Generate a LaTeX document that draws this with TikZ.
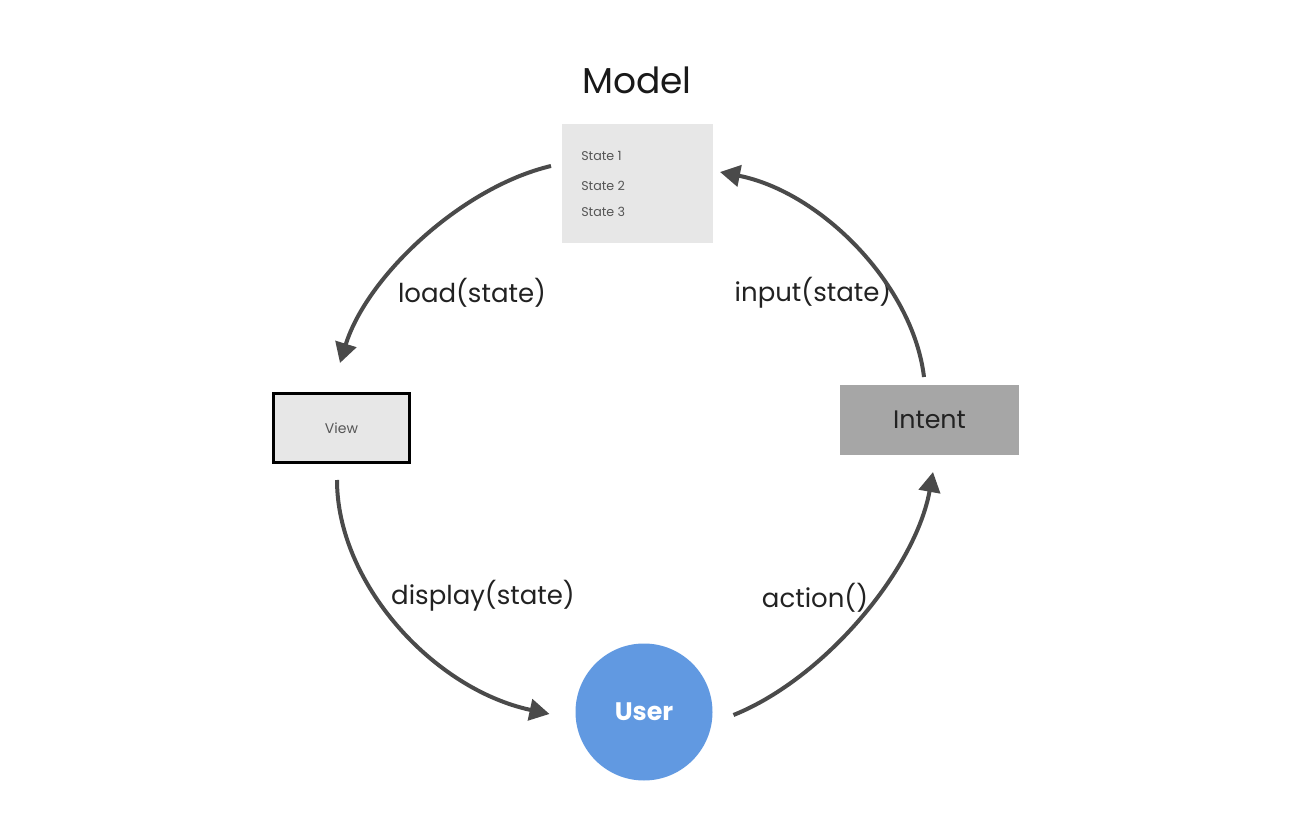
\documentclass[tikz,border=0pt]{standalone}
\usepackage{fontspec}
\setmainfont{Poppins}
\usetikzlibrary{arrows.meta,calc}
\definecolor{arrowc}{HTML}{4A4A4A}
\definecolor{boxlight}{HTML}{E7E7E7}
\definecolor{boxdark}{HTML}{A6A6A6}
\definecolor{userblue}{HTML}{6199E1}
\definecolor{txtgray}{HTML}{555555}
\definecolor{txtdark}{HTML}{222222}
\tikzset{
  flow/.style={draw=arrowc, line width=3pt, -{Triangle[length=15pt,width=16pt]}},
  lbl/.style={text=txtdark, font=\fontsize{19.5}{24}\selectfont, inner sep=0pt},
  stlbl/.style={text=txtgray, font=\fontsize{9.5}{11}\selectfont, anchor=west, inner sep=0pt},
}
\begin{document}
\begin{tikzpicture}[x=0.75pt,y=-0.75pt]
\useasboundingbox[fill=white] (0,0) rectangle (1304,831);

\node[text=black!90, font=\fontsize{27}{32}\selectfont, inner sep=0pt] (title) at (637,80) {Model};

\node[fill=boxlight, minimum width=151*0.75pt, minimum height=119*0.75pt, inner sep=0pt, outer sep=0pt] (model) at (637.5,183.5) {};
\node[stlbl] (s1) at (581,156) {State 1};
\node[stlbl] (s2) at (581,186) {State 2};
\node[stlbl] (s3) at (581,212) {State 3};

\node[draw=black, line width=2.6pt, fill=boxlight, minimum width=135.5*0.75pt, minimum height=68.5*0.75pt, inner sep=0pt, outer sep=0pt, text=txtgray, font=\fontsize{10.5}{12}\selectfont] (view) at (341.5,428) {View};

\node[fill=boxdark, minimum width=179*0.75pt, minimum height=70*0.75pt, inner sep=0pt, outer sep=0pt, text=txtdark, font=\fontsize{19}{22}\selectfont] (intent) at (929.5,420) {Intent};

\node[circle, fill=userblue, minimum size=137*0.75pt, inner sep=0pt, outer sep=0pt, text=white, font=\fontsize{19}{22}\selectfont\bfseries] (user) at (644,712) {User};

\node[lbl] (lload) at (472,293) {load(state)};
\node[lbl] (linput) at (813,293) {input(state)};
\node[lbl] (ldisp) at (483,596) {display(state)};
\node[lbl] (lact) at (815,598) {action()};

\draw[flow] ($(model.west)+(-11,-17.5)$) .. controls (462,187) and (367,276) .. ($(view.north)+(-1.5,-30.75)$);
\draw[flow] ($(intent.north)+(-5.5,-8)$) .. controls (913,285) and (821,192) .. ($(model.east)+(7,-11.5)$);
\draw[flow] ($(view.south)+(-4.5,17.75)$) .. controls (337,583) and (433,689) .. ($(user.west)+(-26,2)$);
\draw[flow] ($(user.east)+(21,3)$) .. controls (825.6,678) and (915.6,568.6) .. ($(intent.south)+(3.5,17)$);
\end{tikzpicture}
\end{document}
